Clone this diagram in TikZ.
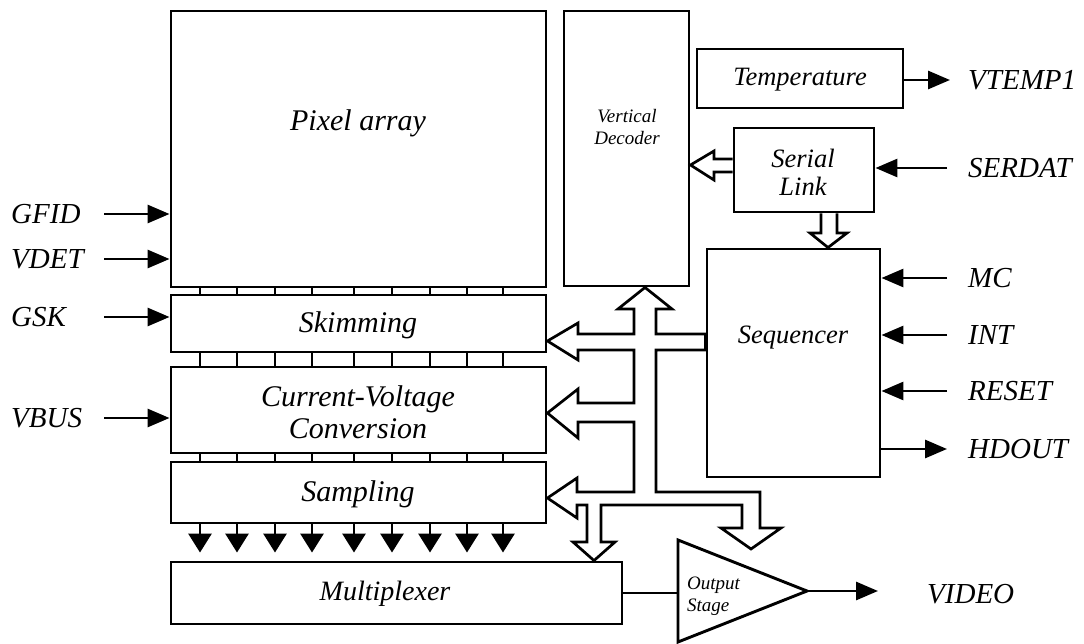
\documentclass[tikz,border=0pt]{standalone}
\usepackage{fontspec}
\setmainfont{Liberation Serif}
\usetikzlibrary{arrows.meta}
\begin{document}
\begin{tikzpicture}[x=1pt,y=-1pt,
  lw/.style={line width=2.9pt},
  blk/.style={draw, line width=2.9pt, inner sep=0pt, rectangle},
  sig/.style={line width=2.9pt, -{Triangle[length=22pt,width=18pt]}},
  dn/.style={line width=2.9pt, -{Triangle[length=19pt,width=23pt]}},
  lab/.style={inner sep=0pt, anchor=west, font=\fontsize{29}{32}\selectfont\itshape},
  big/.style={inner sep=0pt, align=center, font=\fontsize{30}{32}\selectfont\itshape},
  mid/.style={inner sep=0pt, align=center, font=\fontsize{26.5}{28}\selectfont\itshape},
  sml/.style={inner sep=0pt, align=center, font=\fontsize{19}{22}\selectfont\itshape},
  bus/.style={line width=2.7pt, fill=white, line join=miter}]
\useasboundingbox (0,0) rectangle (1084,644);

% blocks
\node[blk, minimum width=375pt, minimum height=276pt] (pix) at (358.5,149) {};
\node[big] (pixT) at (358,123) {Pixel array};
\node[blk, minimum width=375pt, minimum height=57pt] (skim) at (358.5,323.5) {};
\node[big] (skimT) at (358,325) {Skimming};
\node[blk, minimum width=375pt, minimum height=86pt] (cv) at (358.5,410) {};
\node[big] (cvT) at (358,412) {Current-Voltage\\Conversion};
\node[blk, minimum width=375pt, minimum height=61pt] (samp) at (358.5,492.5) {};
\node[big] (sampT) at (358,494) {Sampling};
\node[blk, minimum width=451pt, minimum height=62pt] (mux) at (396.5,593) {};
\node[big, font=\fontsize{28}{30}\selectfont\itshape] (muxT) at (385,594) {Multiplexer};
\node[blk, minimum width=125pt, minimum height=275pt] (vd) at (626.5,148.5) {};
\node[sml] (vdT) at (627,127) {Vertical\\Decoder};
\node[blk, minimum width=206pt, minimum height=59pt] (temp) at (800,78.5) {};
\node[mid] (tempT) at (800,80) {Temperature};
\node[blk, minimum width=140pt, minimum height=84pt] (ser) at (804,170) {};
\node[mid] (serT) at (803,172) {Serial\\Link};
\node[blk, minimum width=173pt, minimum height=228pt] (seq) at (793.5,363) {};
\node[mid] (seqT) at (793,338) {Sequencer};

% output stage
\coordinate (osTop) at (678,540);
\coordinate (osTip) at (807,591);
\coordinate (osBot) at (678,642);
\draw[lw, line join=miter] (osTop) -- (osTip) -- (osBot) -- cycle;
\node[sml, anchor=west, align=left] (osT) at (687,596) {Output\\Stage};
\coordinate (osIn) at (678,593);
\draw[lw] (mux.east |- osIn) -- (osIn);

% ticks between left blocks
\foreach \x in {200,237,275,312,354,392,430,467,503} {
  \draw[lw] (\x,0 |- pix.south) -- (\x,0 |- skim.north);
  \draw[lw] (\x,0 |- skim.south) -- (\x,0 |- cv.north);
  \draw[lw] (\x,0 |- cv.south) -- (\x,0 |- samp.north);
  \draw[dn, shorten >=8pt] (\x,0 |- samp.south) -- (\x,0 |- mux.north);
}

% left labels and inputs
\node[lab] (gfid) at (11,214) {GFID};
\node[lab] (vdet) at (11,259) {VDET};
\node[lab] (gsk) at (11,317) {GSK};
\node[lab] (vbus) at (11,418) {VBUS};
\coordinate (gfidS) at (104,214);
\coordinate (vdetS) at (104,259);
\coordinate (gskS) at (104,317);
\coordinate (vbusS) at (104,418);
\draw[sig] (gfidS) -- (pix.west |- gfidS);
\draw[sig] (vdetS) -- (pix.west |- vdetS);
\draw[sig] (gskS) -- (skim.west |- gskS);
\draw[sig] (vbusS) -- (cv.west |- vbusS);

% right labels
\node[lab] (vtemp) at (968,80) {VTEMP1};
\node[lab] (serdat) at (968,168) {SERDAT};
\node[lab] (mc) at (968,278) {MC};
\node[lab] (int) at (968,335) {INT};
\node[lab] (reset) at (968,391) {RESET};
\node[lab] (hdout) at (968,449) {HDOUT};
\node[lab] (video) at (927,594) {VIDEO};
\coordinate (vtempE) at (950,80);
\coordinate (serdatS) at (947,168);
\coordinate (mcS) at (947,278);
\coordinate (intS) at (947,335);
\coordinate (resetS) at (947,391);
\coordinate (hdoutE) at (947,449);
\coordinate (videoE) at (878,591);
\draw[sig] (temp.east |- vtempE) -- (vtempE);
\draw[sig] (serdatS) -- (ser.east |- serdatS);
\draw[sig] (mcS) -- (seq.east |- mcS);
\draw[sig] (intS) -- (seq.east |- intS);
\draw[sig] (resetS) -- (seq.east |- resetS);
\draw[sig] (seq.east |- hdoutE) -- (hdoutE);
\draw[sig] (osTip) -- (videoE);

% hollow arrows: serial link -> vertical decoder, serial link -> sequencer
\draw[bus] (ser.west |- 0,159) -- (714,159) -- (714,151) -- (vd.east |- 0,165) -- (714,180) -- (714,172) -- (ser.west |- 0,172);
\draw[bus] (821,0 |- ser.south) -- (821,233) -- (810,233) -- (828,0 |- seq.north) -- (847,233) -- (837,233) -- (837,0 |- ser.south);

% hollow bus
\draw[bus] (645,0 |- vd.south) -- (672,309) -- (656,309) -- (656,334) -- (seq.west |- 0,334)
  -- (seq.west |- 0,350) -- (656,350) -- (656,492) -- (760,492) -- (760,528) -- (781,528)
  -- (751,549) -- (721,528) -- (742,528) -- (742,505) -- (601,505) -- (601,542) -- (615,542)
  -- (594,0 |- mux.north) -- (573,542) -- (587,542) -- (587,505) -- (577,505) -- (577,518)
  -- (samp.east |- 0,498) -- (577,478) -- (577,492) -- (634,492) -- (634,422) -- (578,422)
  -- (578,438) -- (cv.east |- 0,413) -- (578,389) -- (578,403) -- (634,403) -- (634,350)
  -- (578,350) -- (578,360) -- (skim.east |- 0,341) -- (578,323) -- (578,334) -- (634,334)
  -- (634,309) -- (618,309) -- cycle;
\end{tikzpicture}
\end{document}
